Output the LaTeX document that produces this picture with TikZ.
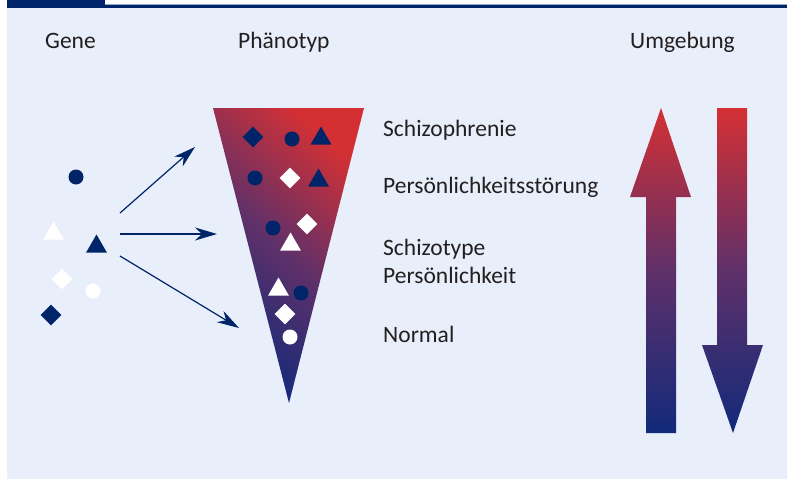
\documentclass[tikz,border=0pt]{standalone}
\usepackage{fontspec}
\setmainfont{Carlito}
\usetikzlibrary{arrows.meta,shapes.geometric}
\definecolor{bg}{RGB}{232,238,250}
\definecolor{navy}{RGB}{0,36,104}
\definecolor{rulelight}{RGB}{150,170,205}
\definecolor{fred}{RGB}{212,48,52}
\definecolor{fmid}{RGB}{95,48,105}
\definecolor{fblue}{RGB}{18,42,122}
\definecolor{txt}{RGB}{35,31,32}
\begin{document}
\begin{tikzpicture}[x=1pt,y=-1pt,
  lbl/.style={anchor=base west, inner sep=0pt, text=txt, font=\fontsize{23.5}{28}\selectfont},
  ndot/.style={circle, fill=navy, minimum size=15pt, inner sep=0pt},
  wdot/.style={circle, fill=white, minimum size=15pt, inner sep=0pt},
  ndia/.style={diamond, fill=navy, minimum width=21pt, minimum height=21pt, inner sep=0pt},
  wdia/.style={diamond, fill=white, minimum width=21pt, minimum height=21pt, inner sep=0pt},
  ntri/.style={regular polygon, regular polygon sides=3, fill=navy, minimum size=24pt, inner sep=0pt},
  wtri/.style={regular polygon, regular polygon sides=3, fill=white, minimum size=24pt, inner sep=0pt},
  link/.style={navy, line width=1.2pt, -{Stealth[length=22pt,width=13pt,inset=7pt]}},
  bigshade/.style={top color=fred, bottom color=fblue, middle color=fmid}
]
\useasboundingbox (0,0) rectangle (787,479);
% background and top rule
\fill[bg] (7,8) rectangle (787,479);
\fill[navy] (7,0) rectangle (105,7.5);
\fill[rulelight] (105,3.6) rectangle (787,4.8);
\fill[navy] (105,4.8) rectangle (787,7.5);

% headings
\node[lbl] (hgene) at (45,48) {Gene};
\node[lbl] (hphen) at (238,48) {Phänotyp};
\node[lbl] (humg) at (630,48) {Umgebung};

% funnel
\shade[top color=fred, bottom color=fblue, middle color=fmid, shading angle=-42]
  (213,108) -- (364,108) -- (289,403) -- cycle;

% shapes inside funnel
\node[ndia] (f1) at (253,137) {};
\node[ndot] (f2) at (292,139) {};
\node[ntri] (f3) at (321,138.5) {};
\node[ndot] (f4) at (255,178) {};
\node[wdia] (f5) at (290,178) {};
\node[ntri] (f6) at (318.5,180.5) {};
\node[ndot] (f7) at (273,228) {};
\node[wdia] (f8) at (307,224) {};
\node[wtri] (f9) at (290.5,244.5) {};
\node[wtri] (f10) at (278.5,289.5) {};
\node[ndot] (f11) at (301,293) {};
\node[wdia] (f12) at (285,314) {};
\node[wdot] (f13) at (290,337) {};

% gene shapes
\node[ndot] (g1) at (76,177) {};
\node[wtri] (g2) at (53.5,233.5) {};
\node[ntri] (g3) at (96.5,246.5) {};
\node[wdia] (g4) at (62,279) {};
\node[wdot] (g5) at (93,291) {};
\node[ndia] (g6) at (51,315) {};

% arrows
\coordinate (a1s) at (120,213);
\coordinate (a1e) at (195,147);
\coordinate (a2s) at (120,234);
\coordinate (a2e) at (217,234);
\coordinate (a3s) at (120,256);
\coordinate (a3e) at (239,328);
\draw[link] (a1s) -- (a1e);
\draw[link] (a2s) -- (a2e);
\draw[link] (a3s) -- (a3e);

% labels
\node[lbl] (l1) at (383,136) {Schizophrenie};
\node[lbl] (l2) at (383,193) {Persönlichkeitsstörung};
\node[lbl] (l3) at (383,255) {Schizotype};
\node[lbl] (l4) at (383,283) {Persönlichkeit};
\node[lbl] (l5) at (383,342) {Normal};

% environment arrows
\shade[bigshade]
  (661,108) -- (691,197) -- (676,197) -- (676,433) -- (646,433) -- (646,197) -- (630,197) -- cycle;
\shade[bigshade]
  (717,108) -- (747,108) -- (747,345) -- (763,345) -- (733,433) -- (702,345) -- (717,345) -- cycle;
\end{tikzpicture}
\end{document}
